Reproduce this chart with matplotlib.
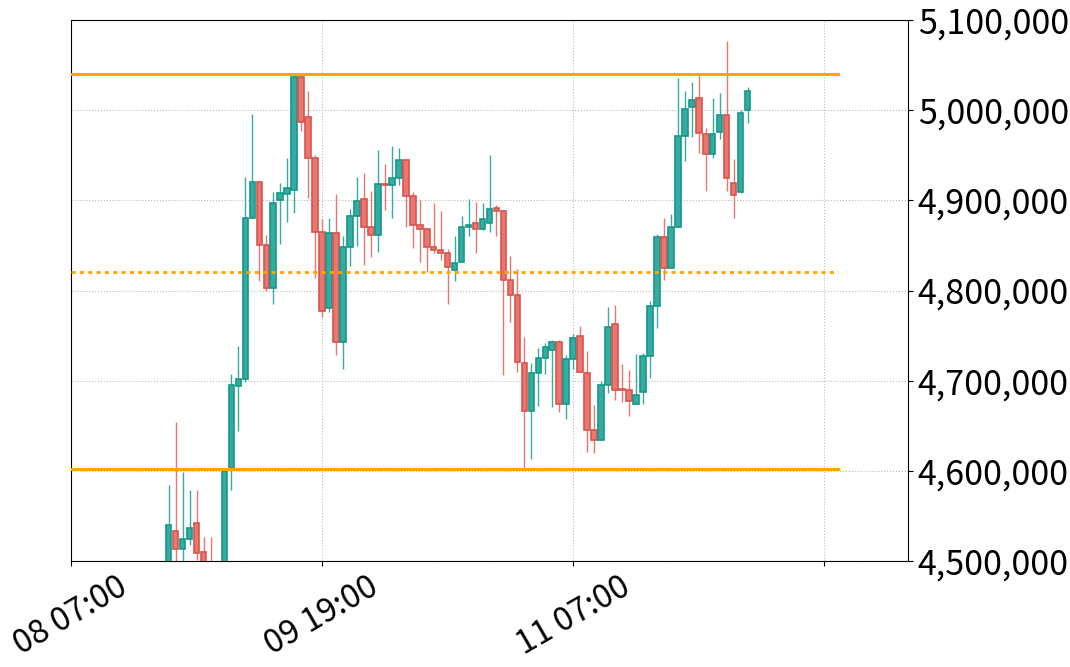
import matplotlib
matplotlib.use("Agg")
import matplotlib.pyplot as plt
from matplotlib.patches import Rectangle

plt.rcParams['font.family'] = ['Noto Sans CJK JP', 'DejaVu Sans']

# hours since 08 07:00
hours = list(range(14, 98))
opens = [4495000,4533000,4513000,4524000,4541800,4510000,4490000,4470000,4490000,4603200,
         4694000,4701500,4880000,4920000,4850000,4803200,4900000,4906700,4911100,5036500,
         4992100,4946600,4864500,4780300,4863400,4742600,4847900,4882260,4901100,4870100,
         4861200,4917800,4916600,4924400,4944400,4904400,4872300,4867800,4847900,4844500,
         4841200,4822400,4831200,4870100,4874500,4867800,4874500,4891100,4887800,4811300,
         4794600,4719200,4666000,4708100,4724700,4734100,4743200,4673700,4723600,4749100,
         4708100,4645300,4634200,4694800,4762500,4690400,4689300,4673700,4687000,4727000,
         4782400,4858900,4824600,4870000,4971000,5003100,5013100,4973200,4951000,4975400,
         4994400,4918900,4908900,5000500]
closes = [4540000,4513000,4524000,4537000,4508500,4490000,4470000,4480000,4599800,4694900,
          4701500,4880000,4920000,4850000,4803200,4896700,4907800,4913400,5036500,4986500,
          4946600,4864500,4776900,4863400,4742600,4848000,4882260,4898900,4870100,4861200,
          4917800,4916600,4924400,4944400,4904400,4872300,4867800,4847900,4844500,4841200,
          4825700,4830100,4870100,4872300,4867800,4878900,4890000,4887800,4811300,4794600,
          4720300,4666000,4708100,4724700,4737700,4742600,4673700,4723600,4746900,4709200,
          4645300,4634200,4694800,4759100,4689600,4689600,4677100,4683700,4727000,4782400,
          4858900,4824600,4870000,4971000,5000900,5010900,4974300,4951000,4973200,4994400,
          4924400,4905500,4996500,5020900]
highs = [4584300,4654000,4598700,4578800,4578800,4526600,4526600,4495000,4602000,4707800,
         4738800,4926200,4995750,4920000,4861600,4908900,4918900,4947000,5039000,5040100,
         5020900,4950300,4879300,4880100,4907000,4860100,4890400,4925900,4930300,4910400,
         4955800,4940300,4960300,4958000,4944400,4908900,4900000,4867800,4896700,4888200,
         4845700,4860100,4882300,4901100,4897800,4896700,4950300,4894500,4888900,4837900,
         4823500,4748400,4719200,4735800,4741400,4745100,4745100,4728500,4751700,4760600,
         4732900,4673000,4699600,4781700,4783900,4718100,4711800,4729200,4730700,4788300,
         4862700,4880000,4884800,5035300,5021200,5030900,5039000,4979900,5013100,5018700,
         5076700,4945500,5000200,5025300]
lows = [4480000,4490000,4495000,4517700,4501000,4480000,4450000,4440000,4470000,4578800,
        4644200,4698500,4880000,4810900,4799800,4785400,4851900,4876300,4886300,4977200,
        4902900,4814200,4770300,4775800,4728100,4712600,4827500,4849700,4828700,4837500,
        4843100,4888900,4880000,4916600,4870100,4846800,4831200,4820100,4841200,4833500,
        4784700,4810200,4831200,4860100,4841200,4866700,4864500,4860100,4705900,4764700,
        4709200,4601700,4612800,4671900,4707000,4671100,4665600,4657100,4712500,4709200,
        4621200,4619400,4634200,4686700,4678500,4676700,4661200,4673700,4673700,4703300,
        4758800,4811300,4824600,4870000,4944000,4969900,4952900,4910000,4946600,4967600,
        4910000,4880000,4907800,4985400]

upper_level = 5040000
lower_level = 4602500
mid_level = 4820500

tick_pos = [0, 36, 72, 108]
tick_labels = ['08 07:00', '09 19:00', '11 07:00', '']

fig = plt.figure(figsize=(10.70, 6.67), dpi=100)
ax = fig.add_axes([71/1070, 1-561/667, (908-71)/1070, (561-20)/667])

up_face, up_edge = '#35ac9f', '#16978b'
dn_face, dn_edge = '#e9766f', '#d9544e'
w = 0.8
for h, o, c, hi, lo in zip(hours, opens, closes, highs, lows):
    up = c >= o
    fc, ec = (up_face, up_edge) if up else (dn_face, dn_edge)
    ax.vlines(h, lo, hi, color=fc, lw=1, zorder=2)
    ax.add_patch(Rectangle((h - w/2, min(o, c)), w, max(abs(c - o), 800),
                           facecolor=fc, edgecolor=ec, lw=1.2, zorder=3))

ax.plot([0, 110], [upper_level]*2, color='#ffa500', lw=2.2, zorder=4)
ax.plot([0, 110], [lower_level]*2, color='#ffa500', lw=2.2, zorder=4)
ax.plot([0, 110], [mid_level]*2, color='#ffa500', lw=2, ls=(0, (1.5, 1.5)), zorder=4)

ax.set_xlim(0, 120)
ax.set_ylim(4500000, 5100000)
ax.set_xticks(tick_pos)
ax.set_xticklabels(tick_labels, rotation=30, ha='center', fontsize=23.5)
ax.yaxis.tick_right()
ax.set_yticks(range(4500000, 5100001, 100000))
ax.set_yticklabels([f'{v:,}' for v in range(4500000, 5100001, 100000)], fontsize=24.5)
ax.grid(True, color='#bbbbbb', ls=':', lw=0.8, zorder=0)
ax.set_axisbelow(True)
for s in ax.spines.values():
    s.set_linewidth(0.8)

fig.savefig('out.png', dpi=100)
